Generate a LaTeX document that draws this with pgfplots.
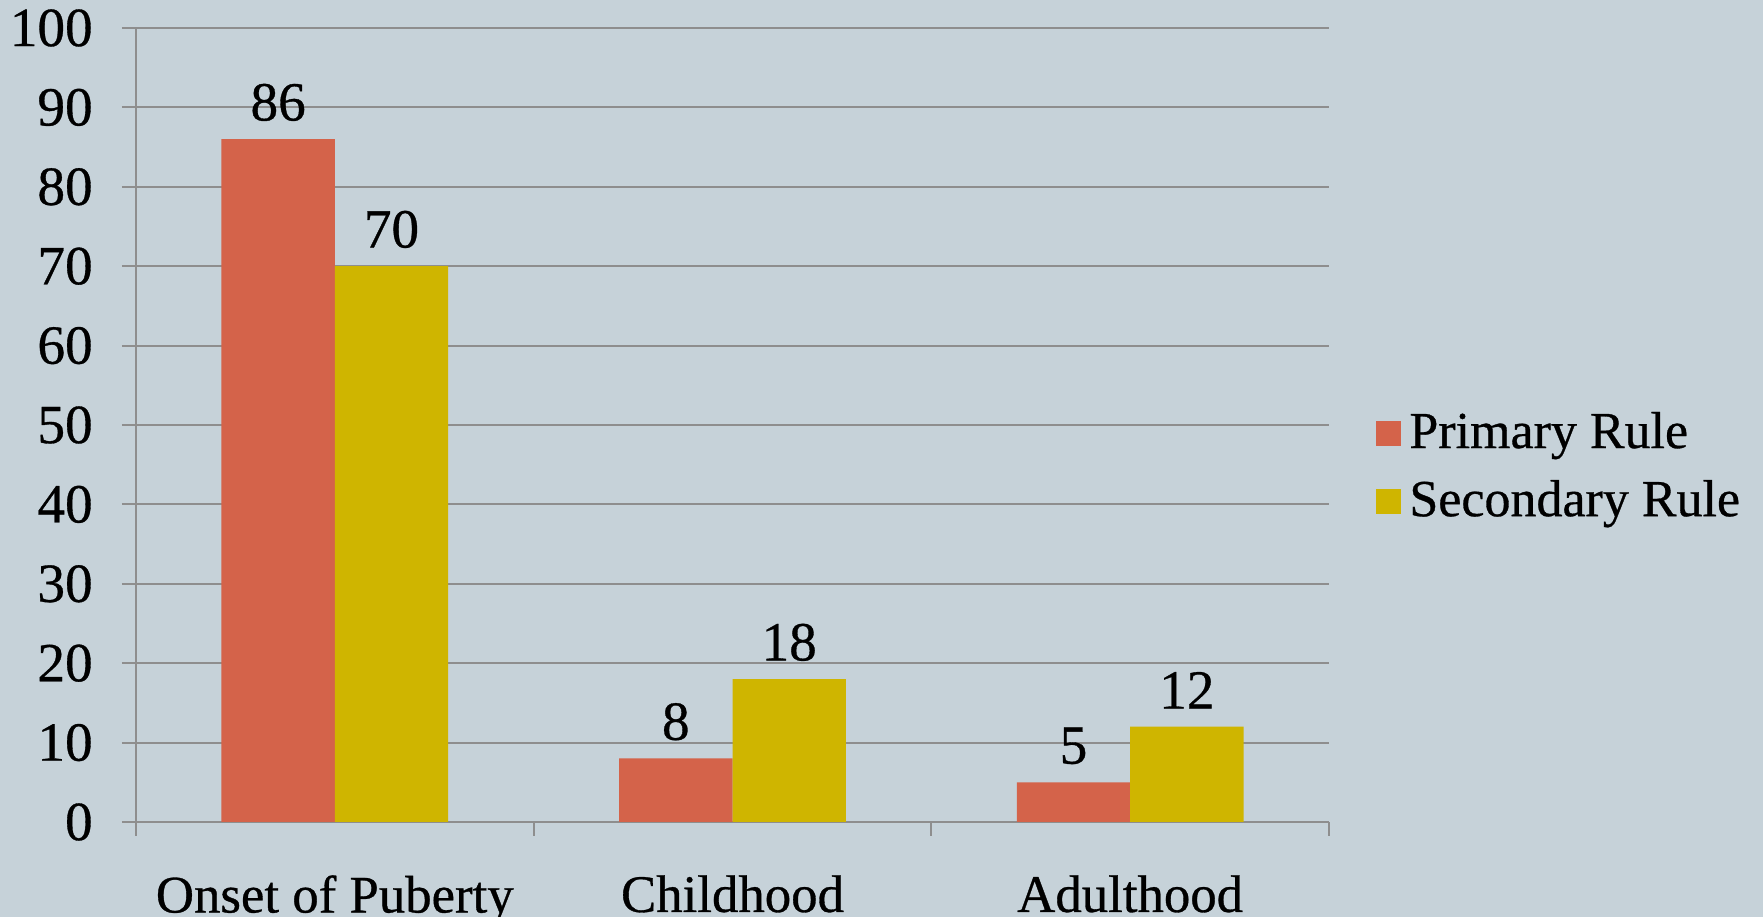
\documentclass[border=0pt]{standalone}
\usepackage{fontspec}
\setmainfont{Liberation Serif}[FakeBold=0.6]
\usepackage{pgfplots}
\pgfplotsset{compat=1.18}
\definecolor{bg}{HTML}{C6D2D9}
\definecolor{primc}{HTML}{D4634A}
\definecolor{secc}{HTML}{CFB500}
\definecolor{gridc}{HTML}{8E8E8E}
\newcommand{\lblfont}{\fontsize{13.8}{16}\selectfont}
\begin{document}
\begin{tikzpicture}
\fill[bg] (-34pt,-23.75pt) rectangle (406.75pt,205.5pt);
\begin{axis}[
    at={(0,0)}, anchor=south west,
    scale only axis,
    width=298.25pt, height=198.5pt,
    ybar=0pt, bar width=0.285,
    xmin=-0.5, xmax=2.5,
    ymin=0, ymax=100,
    ytick={0,10,...,100},
    xtick={0,1,2},
    xticklabels={Onset of Puberty,Childhood,Adulthood},
    x tick style={draw=none},
    extra x ticks={-0.5,0.5,1.5,2.5},
    extra x tick labels={},
    extra x tick style={x tick style={draw=gridc, line width=0.5pt}, major tick length=3.5pt},
    tick align=outside,
    major tick length=3.5pt,
    y tick style={draw=gridc, line width=0.5pt},
    axis x line*=bottom,
    axis y line*=left,
    axis line style={draw=gridc, line width=0.5pt, -},
    ymajorgrids,
    major grid style={draw=gridc, line width=0.5pt},
    /pgf/number format/assume math mode=true,
    tick label style={font=\lblfont},
    yticklabel style={xshift=-3.8pt},
    xticklabel style={yshift=-6.3pt, font=\fontsize{13.2}{15}\selectfont},
    nodes near coords,
    every node near coord/.append style={font=\lblfont, yshift=1pt},
    legend style={
        at={(1.029,0.447)}, anchor=west,
        draw=none, fill=none,
        font=\fontsize{13}{15}\selectfont,
        row sep=2.5pt,
        /tikz/every even column/.append style={column sep=0pt},
    },
    legend cell align=left,
    legend image code/.code={\fill[#1] (0pt,-3.125pt) rectangle (6.25pt,3.125pt);},
]
\addplot[draw=none, fill=primc] coordinates {(0,86) (1,8) (2,5)};
\addplot[draw=none, fill=secc] coordinates {(0,70) (1,18) (2,12)};
\legend{Primary Rule, Secondary Rule}
\end{axis}
\pgfresetboundingbox
\useasboundingbox (-34pt,-23.75pt) rectangle (406.75pt,205.5pt);
\end{tikzpicture}
\end{document}
